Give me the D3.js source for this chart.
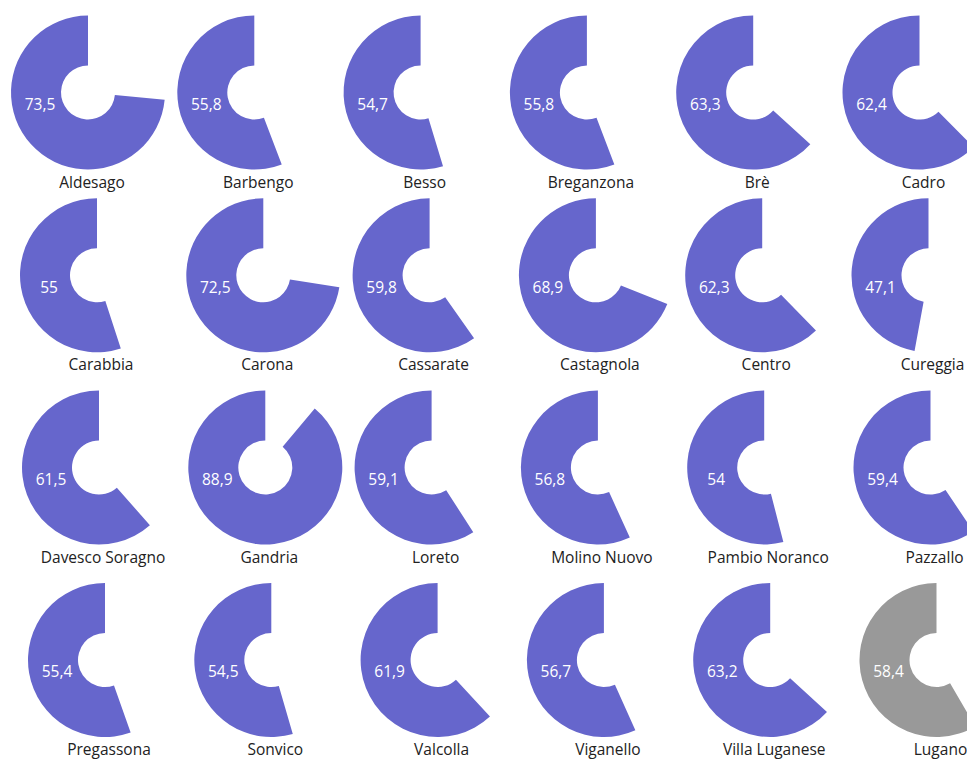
<!DOCTYPE html>
<html>
<head>
<meta charset="utf-8">
<script src="https://cdn.jsdelivr.net/npm/d3@7"></script>
<style>
  body { margin: 0; background: #fff; }
  svg { display: block; }
</style>
</head>
<body>
<div id="chart"></div>
<script>
// quartieri di Lugano, percentuale
const quartieri = ["Aldesago", "Barbengo", "Besso", "Breganzona", "Brè", "Cadro",
  "Carabbia", "Carona", "Cassarate", "Castagnola", "Centro", "Cureggia",
  "Davesco Soragno", "Gandria", "Loreto", "Molino Nuovo", "Pambio Noranco", "Pazzallo",
  "Pregassona", "Sonvico", "Valcolla", "Viganello", "Villa Luganese", "Lugano"];
const valori = [73.5, 55.8, 54.7, 55.8, 63.3, 62.4,
  55, 72.5, 59.8, 68.9, 62.3, 47.1,
  61.5, 88.9, 59.1, 56.8, 54, 59.4,
  55.4, 54.5, 61.9, 56.7, 63.2, 58.4];
const totale = "Lugano";

const width = 967, height = 760;
const nCols = 6;
const outerR = 77, innerR = 27;

// grid layout
const rowTop = [92.5, 275.3, 467.5, 660];
const rowStart = [88, 97, 99, 105];
const col = d3.scaleLinear().domain([0, nCols - 1]).range([0, 831.5]);

const data = quartieri.map((q, i) => ({ name: q, value: valori[i], idx: i }));

const svg = d3.select("#chart").append("svg")
  .attr("width", width)
  .attr("height", height);

const arc = d3.arc()
  .innerRadius(innerR)
  .outerRadius(outerR)
  .startAngle(0)
  .endAngle(d => -d.value / 100 * 2 * Math.PI);

const fmt = v => String(v).replace(".", ",");

const cells = svg.selectAll("g.cell")
  .data(data)
  .enter().append("g")
  .attr("class", "cell")
  .attr("transform", d => {
    const r = Math.floor(d.idx / nCols), c = d.idx % nCols;
    return `translate(${rowStart[r] + col(c)},${rowTop[r]})`;
  });

cells.append("path")
  .attr("d", arc)
  .style("fill", d => d.name === totale ? "#999999" : "#6666cc");

cells.append("text")
  .attr("x", -48)
  .attr("y", 12)
  .attr("dy", "0.35em")
  .style("text-anchor", "middle")
  .style("font-family", "'Open Sans', sans-serif")
  .style("font-size", "15.5px")
  .style("fill", "#ffffff")
  .text(d => fmt(d.value));

cells.append("text")
  .attr("x", 4)
  .attr("y", 95)
  .style("text-anchor", "middle")
  .style("font-family", "'Open Sans', sans-serif")
  .style("font-size", "15.5px")
  .style("fill", "#222")
  .text(d => d.name);
</script>
</body>
</html>
